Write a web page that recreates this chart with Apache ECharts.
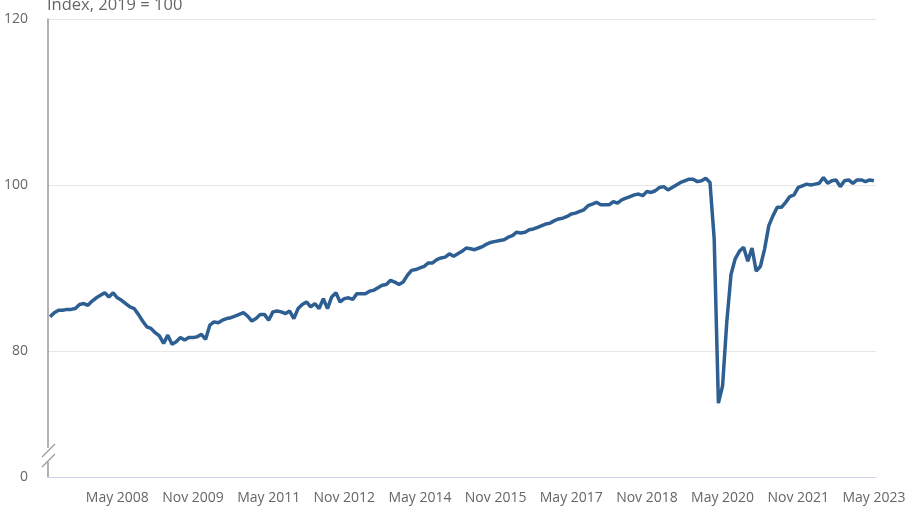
<!DOCTYPE html>
<html>
<head>
<meta charset="utf-8">
<script src="https://cdn.jsdelivr.net/npm/echarts@6/dist/echarts.min.js"></script>
<style>
  html, body { margin: 0; padding: 0; background: #fff; }
  #chart { width: 916px; height: 524px; }
</style>
</head>
<body>
<div id="chart"></div>
<script>
// monthly index, Jan 2007 .. May 2023 (2019 = 100)
var monthNames = ['Jan', 'Feb', 'Mar', 'Apr', 'May', 'Jun', 'Jul', 'Aug', 'Sep', 'Oct', 'Nov', 'Dec'];
var firstYear = 2007;

var values2007 = [84.1, 84.6, 84.9, 84.9, 85.0, 85.0, 85.1, 85.6, 85.7, 85.5, 86.0, 86.4];
var values2008 = [86.7, 87.0, 86.5, 87.0, 86.4, 86.1, 85.7, 85.3, 85.1, 84.4, 83.6, 82.9];
var values2009 = [82.7, 82.2, 81.8, 80.9, 81.9, 80.8, 81.1, 81.6, 81.3, 81.6, 81.6, 81.7];
var values2010 = [82.0, 81.4, 83.1, 83.5, 83.4, 83.7, 83.9, 84.0, 84.2, 84.4, 84.6, 84.2];
var values2011 = [83.6, 83.9, 84.4, 84.4, 83.7, 84.7, 84.8, 84.7, 84.5, 84.8, 83.9, 85.1];
var values2012 = [85.6, 85.9, 85.3, 85.7, 85.1, 86.3, 85.1, 86.5, 87.0, 85.9, 86.3, 86.4];
var values2013 = [86.2, 86.9, 86.9, 86.9, 87.2, 87.3, 87.6, 87.9, 88.0, 88.5, 88.3, 88.0];
var values2014 = [88.3, 89.1, 89.7, 89.8, 90.0, 90.2, 90.6, 90.6, 91.0, 91.2, 91.3, 91.7];
var values2015 = [91.4, 91.7, 92.0, 92.4, 92.3, 92.2, 92.4, 92.6, 92.9, 93.1, 93.2, 93.3];
var values2016 = [93.4, 93.7, 93.9, 94.3, 94.2, 94.3, 94.6, 94.7, 94.9, 95.1, 95.3, 95.4];
var values2017 = [95.7, 95.9, 96.0, 96.2, 96.5, 96.6, 96.8, 97.0, 97.5, 97.7, 97.9, 97.6];
var values2018 = [97.6, 97.6, 98.0, 97.8, 98.2, 98.4, 98.6, 98.8, 98.9, 98.7, 99.2, 99.1];
var values2019 = [99.3, 99.7, 99.8, 99.4, 99.7, 100.0, 100.3, 100.5, 100.7, 100.7, 100.4, 100.5];
var values2020 = [100.8, 100.3, 93.5, 73.7, 75.8, 83.5, 89.2, 91.1, 92.0, 92.5, 90.8, 92.4];
var values2021 = [89.6, 90.2, 92.3, 95.1, 96.3, 97.3, 97.3, 97.9, 98.6, 98.8, 99.7, 99.9];
var values2022 = [100.1, 100.0, 100.1, 100.2, 100.9, 100.2, 100.5, 100.6, 99.8, 100.5, 100.6, 100.2];
var values2023 = [100.6, 100.6, 100.4, 100.6, 100.5];

// y axis: broken scale, bottom of the plot is labelled 0
var yBottom = 64.8;
var yTicks = [yBottom, 80, 100, 120];

var values = [].concat(values2007, values2008, values2009, values2010, values2011,
  values2012, values2013, values2014, values2015, values2016, values2017,
  values2018, values2019, values2020, values2021, values2022, values2023);

var categories = values.map(function (v, i) {
  return monthNames[i % 12] + ' ' + (firstYear + Math.floor(i / 12));
});

// a label every 18 months, starting May 2008
var showLabel = function (i) { return i % 18 === 16; };

var font = "'Open Sans', sans-serif";

var myChart = echarts.init(document.getElementById('chart'));
myChart.setOption({
  animation: false,
  title: {
    text: 'Index, 2019 = 100',
    left: 42,
    top: -8,
    textStyle: { fontSize: 16.5, fontWeight: 'normal', color: '#666', fontFamily: font }
  },
  grid: { left: 48, right: 40, top: 19, bottom: 47 },
  xAxis: {
    type: 'category',
    data: categories,
    boundaryGap: true,
    axisLine: { lineStyle: { color: '#ccd6eb', width: 1 } },
    axisTick: { alignWithLabel: true, interval: showLabel, length: 12, lineStyle: { color: '#ccd6eb' } },
    axisLabel: { interval: showLabel, margin: 14, color: '#666', fontSize: 14, fontFamily: font },
    splitLine: { show: false }
  },
  yAxis: {
    type: 'value',
    min: yBottom,
    max: 120,
    axisLine: { show: true, lineStyle: { color: '#999', width: 1.5 } },
    axisTick: { show: false, customValues: yTicks },
    axisLabel: {
      customValues: yTicks,
      margin: 20,
      color: '#666',
      fontSize: 14,
      fontFamily: font,
      formatter: function (v) { return v < 70 ? '0' : v; }
    },
    splitLine: { show: true, lineStyle: { color: '#e6e6e6', width: 1 } }
  },
  series: [{
    type: 'line',
    data: values,
    symbol: 'none',
    lineStyle: { color: '#2e5f92', width: 3.5 },
    z: 3
  }],
  graphic: [
    { type: 'rect', shape: { x: 44, y: 448, width: 8, height: 14 }, style: { fill: '#fff' }, z: 100 },
    { type: 'line', shape: { x1: 42, y1: 457, x2: 55, y2: 444 }, style: { stroke: '#999', lineWidth: 1.3 }, z: 101 },
    { type: 'line', shape: { x1: 42, y1: 467, x2: 55, y2: 454 }, style: { stroke: '#999', lineWidth: 1.3 }, z: 101 }
  ]
});
</script>
</body>
</html>
